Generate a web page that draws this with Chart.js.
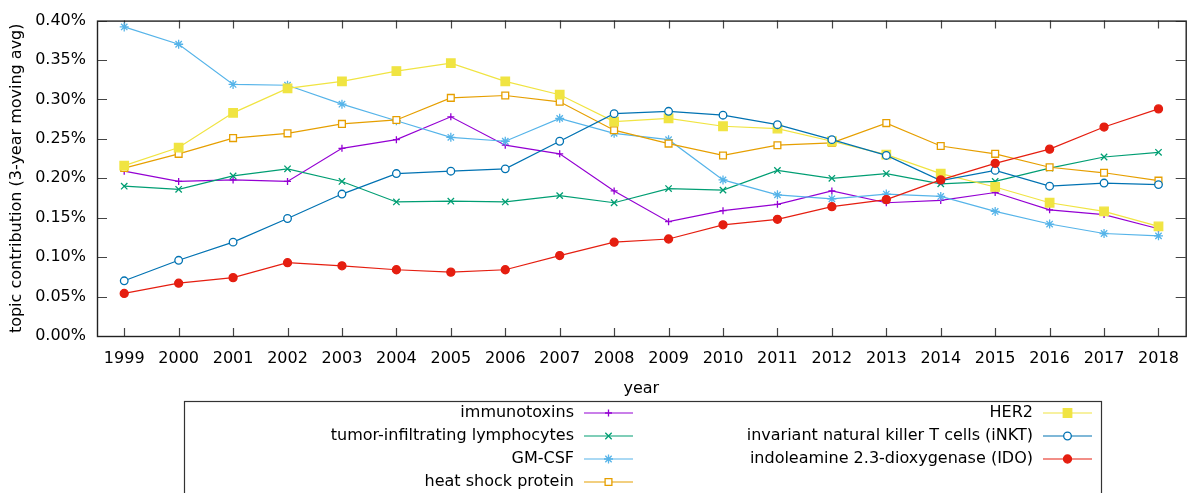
<!DOCTYPE html>
<html>
<head>
<meta charset="utf-8">
<script src="https://cdn.jsdelivr.net/npm/chart.js@4/dist/chart.umd.min.js"></script>
<style>
  html, body { margin: 0; padding: 0; background: #fff; }
  #wrap { width: 1193px; height: 493px; position: relative; }
</style>
</head>
<body>
<div id="wrap"><canvas id="chart-topics"></canvas></div>
<script>
var years = ["1999","2000","2001","2002","2003","2004","2005","2006","2007","2008",
             "2009","2010","2011","2012","2013","2014","2015","2016","2017","2018"];

// values in percent
var immunotoxins = [0.209,0.196,0.198,0.196,0.238,0.249,0.278,0.242,0.231,0.184,
                    0.145,0.159,0.167,0.184,0.169,0.172,0.182,0.160,0.154,0.136];
var tumorInfiltrating = [0.190,0.186,0.203,0.212,0.196,0.170,0.171,0.170,0.178,0.169,
                         0.187,0.185,0.210,0.200,0.206,0.193,0.196,0.213,0.227,0.233];
var gmCsf = [0.392,0.370,0.319,0.318,0.294,0.273,0.252,0.247,0.276,0.257,
             0.249,0.198,0.179,0.174,0.180,0.177,0.158,0.142,0.130,0.127];
var heatShock = [0.213,0.231,0.251,0.257,0.269,0.274,0.302,0.305,0.297,0.261,
                 0.244,0.229,0.242,0.245,0.270,0.241,0.231,0.214,0.207,0.197];
var her2 = [0.216,0.239,0.283,0.314,0.323,0.336,0.346,0.323,0.306,0.272,
            0.276,0.266,0.263,0.247,0.230,0.206,0.189,0.169,0.158,0.139];
var inkt = [0.070,0.096,0.119,0.149,0.180,0.206,0.209,0.212,0.247,0.282,
            0.285,0.280,0.268,0.249,0.229,0.197,0.210,0.190,0.194,0.192];
var ido = [0.054,0.067,0.074,0.093,0.089,0.084,0.081,0.084,0.102,0.119,
           0.123,0.141,0.148,0.164,0.173,0.198,0.219,0.237,0.265,0.288];

var FONT = "'DejaVu Sans', sans-serif";

function series(label, data, color, style, radius, filled) {
  return {
    label: label,
    data: data,
    borderColor: color,
    backgroundColor: filled ? color : '#ffffff',
    borderWidth: 1.2,
    pointStyle: style,
    pointRadius: radius,
    pointHoverRadius: radius,
    pointBorderWidth: 1.3,
    pointBorderColor: color,
    pointBackgroundColor: filled ? color : '#ffffff',
    tension: 0,
    fill: false
  };
}

var datasets = [
  series("immunotoxins", immunotoxins, "#9400d3", "cross", 3.5, false),
  series("tumor-infiltrating lymphocytes", tumorInfiltrating, "#009e73", "crossRot", 4.5, false),
  series("GM-CSF", gmCsf, "#56b4e9", "star", 4.5, false),
  series("heat shock protein", heatShock, "#e69f00", "rect", 4.8, false),
  series("HER2", her2, "#f0e442", "rect", 6, true),
  series("invariant natural killer T cells (iNKT)", inkt, "#0072b2", "circle", 3.8, false),
  series("indoleamine 2.3-dioxygenase (IDO)", ido, "#e51e10", "circle", 4, true)
];
// later series on top, as in the original
datasets.forEach(function(d, i) { d.order = datasets.length - i; });

// frame plus inward ticks on all four sides
var framePlugin = {
  id: 'frameTicks',
  beforeDatasetsDraw: function(chart) {
    var ctx = chart.ctx, a = chart.chartArea;
    var xs = chart.scales.x, ys = chart.scales.y;
    ctx.save();
    ctx.strokeStyle = '#444';
    ctx.lineWidth = 1.2;
    ctx.beginPath();
    ys.ticks.forEach(function(t) {
      var y = Math.round(ys.getPixelForValue(t.value)) + 0.5;
      ctx.moveTo(a.left, y); ctx.lineTo(a.left + 10, y);
      ctx.moveTo(a.right, y); ctx.lineTo(a.right - 10, y);
    });
    xs.ticks.forEach(function(t, i) {
      var x = Math.round(xs.getPixelForTick(i)) + 0.5;
      ctx.moveTo(x, a.bottom); ctx.lineTo(x, a.bottom - 8);
      ctx.moveTo(x, a.top); ctx.lineTo(x, a.top + 8);
    });
    ctx.stroke();
    ctx.strokeStyle = '#222';
    ctx.lineWidth = 1.4;
    ctx.strokeRect(a.left + 0.5, a.top + 0.5, a.right - a.left, a.bottom - a.top);
    ctx.restore();
  }
};

// gnuplot style key: two columns, text right aligned, sample line with marker
var keyPlugin = {
  id: 'gnuKey',
  afterDraw: function(chart) {
    var ctx = chart.ctx;
    var ds = chart.data.datasets;
    ctx.save();
    ctx.strokeStyle = '#333';
    ctx.lineWidth = 1.2;
    ctx.strokeRect(184.5, 401.5, 917, 100);
    ctx.font = "16px " + FONT;
    ctx.textAlign = 'right';
    ctx.textBaseline = 'middle';
    var rowY = [413, 436, 459, 482];
    var cols = [{tx: 574, l0: 584, l1: 633}, {tx: 1033, l0: 1043, l1: 1092}];
    for (var i = 0; i < ds.length; i++) {
      var c = i < 4 ? cols[0] : cols[1];
      var y = rowY[i < 4 ? i : i - 4];
      ctx.fillStyle = '#000';
      ctx.fillText(ds[i].label, c.tx, y);
      ctx.strokeStyle = ds[i].borderColor;
      ctx.lineWidth = 1.2;
      ctx.beginPath();
      ctx.moveTo(c.l0, y); ctx.lineTo(c.l1, y);
      ctx.stroke();
      ctx.fillStyle = ds[i].pointBackgroundColor;
      ctx.strokeStyle = ds[i].pointBorderColor;
      ctx.lineWidth = 1.3;
      Chart.helpers.drawPoint(ctx, {
        pointStyle: ds[i].pointStyle,
        radius: ds[i].pointRadius,
        rotation: 0,
        borderWidth: 1.3
      }, (c.l0 + c.l1) / 2, y);
    }
    ctx.restore();
  }
};

var chart;

function initChart() {
  var ctx = document.getElementById("chart-topics").getContext("2d");
  chart = new Chart(ctx, {
    type: "line",
    data: { labels: years, datasets: datasets },
    plugins: [framePlugin, keyPlugin],
    options: {
      responsive: true,
      maintainAspectRatio: false,
      animation: false,
      layout: { padding: { top: 18, right: 4, left: 0, bottom: 0 } },
      plugins: {
        legend: { display: false },
        tooltip: { enabled: false }
      },
      scales: {
        x: {
          type: 'category',
          offset: true,
          grid: { display: false, drawTicks: false },
          border: { display: false },
          ticks: { color: '#000', padding: 13, font: { family: FONT, size: 16 }, maxRotation: 0, autoSkip: false },
          title: { display: true, text: 'year', color: '#000', font: { family: FONT, size: 16 },
                   padding: { top: 0, bottom: 95 } },
          afterFit: function(scale) { scale.height = 157; }
        },
        y: {
          min: 0,
          max: 0.4,
          grid: { display: false, drawTicks: false },
          border: { display: false },
          ticks: {
            stepSize: 0.05,
            color: '#000',
            padding: 11,
            font: { family: FONT, size: 16 },
            callback: function(v) { return v.toFixed(2) + '%'; }
          },
          title: { display: true, text: 'topic contribution (3-year moving avg)', color: '#000',
                   font: { family: FONT, size: 16 }, padding: { top: 7, bottom: 0 } },
          afterFit: function(scale) { scale.width = 97; }
        }
      }
    }
  });
}

window.addEventListener('load', initChart);
</script>
</body>
</html>
